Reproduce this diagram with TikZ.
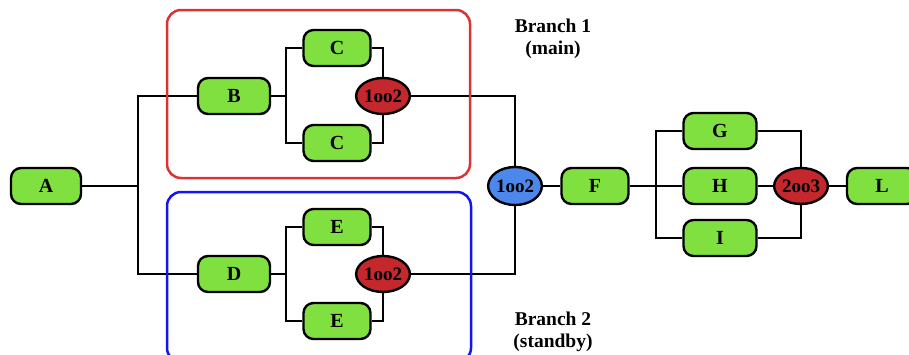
\documentclass[tikz,border=0pt]{standalone}
\usepackage{fontspec}
\setmainfont{Liberation Serif}
\usetikzlibrary{shapes.geometric,backgrounds}
\definecolor{blockgreen}{HTML}{80E040}
\definecolor{voterred}{HTML}{C4282C}
\definecolor{voterblue}{HTML}{4C88EC}
\definecolor{frameRed}{HTML}{D83434}
\definecolor{frameBlue}{HTML}{1414F0}
\tikzset{
  block/.style={draw=black, line width=2.4pt, fill=blockgreen, rounded corners=10pt,
    minimum width=#1, minimum height=36pt, inner sep=0pt,
    font=\fontsize{20}{22}\selectfont\bfseries},
  block/.default=70pt,
  voter/.style={draw=black, line width=2.4pt, ellipse, fill=#1, minimum width=48pt,
    minimum height=36pt, inner sep=0pt, font=\fontsize{19}{22}\selectfont\bfseries},
  wire/.style={draw=black, line width=2.4pt},
  frame/.style={line width=2.5pt, rounded corners=14pt},
  note/.style={align=center, font=\fontsize{19.5}{22}\selectfont\bfseries}
}
\begin{document}
\begin{tikzpicture}[x=1pt,y=-1pt]
\useasboundingbox (0,0) rectangle (909,354);
% branch frames
\draw[frame, draw=frameRed] (167,10) rectangle (470,178);
\draw[frame, draw=frameBlue] (167,192) rectangle (471,362);
% blocks
\node[block=70pt] (A) at (46,186) {A};
\node[block=72pt] (B) at (234,96) {B};
\node[block=67pt] (C1) at (337,48) {C};
\node[block=67pt] (C2) at (337,143) {C};
\node[voter=voterred] (V1) at (383,96) {1oo2};
\node[block=72pt] (D) at (234,274) {D};
\node[block=67pt] (E1) at (337,227) {E};
\node[block=67pt] (E2) at (337,321) {E};
\node[voter=voterred] (V2) at (383,274) {1oo2};
\node[voter=voterblue, minimum width=49pt, minimum height=38pt] (V3) at (515,186) {1oo2};
\node[block=67pt] (F) at (595,186) {F};
\node[block=73pt] (G) at (720,131) {G};
\node[block=73pt] (H) at (720,186) {H};
\node[block=73pt] (I) at (720,238) {I};
\node[voter=voterred, minimum width=52pt] (V4) at (801,186) {2oo3};
\node[block=70pt] (L) at (882,186) {L};
% branch points
\coordinate (sA) at (138,186);
\coordinate (sAt) at (138,96);
\coordinate (sAb) at (138,274);
\coordinate (sB) at (286,96);
\coordinate (sD) at (286,274);
\coordinate (sF) at (656,186);
% connectors, kept behind the blocks
\begin{scope}[on background layer]
\path[wire] (A) -- (sA);
\path[wire] (B) -- (sAt) -- (sAb) -- (D);
\path[wire] (B) -- (sB);
\path[wire] (C1) -| (sB) |- (C2);
\path[wire] (D) -- (sD);
\path[wire] (E1) -| (sD) |- (E2);
\path[wire] (C1) -| (V1);
\path[wire] (C2) -| (V1);
\path[wire] (E1) -| (V2);
\path[wire] (E2) -| (V2);
\path[wire] (V1) -| (V3);
\path[wire] (V2) -| (V3);
\path[wire] (V3) -- (F);
\path[wire] (F) -- (sF);
\path[wire] (G) -| (sF) |- (I);
\path[wire] (sF) -- (H);
\path[wire] (G) -| (V4);
\path[wire] (I) -| (V4);
\path[wire] (H) -- (V4);
\path[wire] (V4) -- (L);
\end{scope}
% labels
\node[note] (lab1) at (553,39) {Branch 1\\(main)};
\node[note] (lab2) at (553,332) {Branch 2\\(standby)};
\end{tikzpicture}
\end{document}
